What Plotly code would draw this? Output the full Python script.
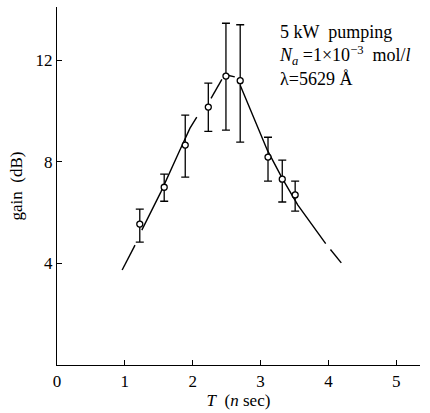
import plotly.graph_objects as go

# measured points
t_pts = [1.22, 1.58, 1.89, 2.23, 2.49, 2.70, 3.11, 3.32, 3.51]
gain_pts = [5.55, 7.0, 8.66, 10.16, 11.38, 11.2, 8.19, 7.32, 6.70]
err_plus = [0.59, 0.52, 1.18, 0.94, 2.08, 2.20, 0.78, 0.75, 0.54]
err_minus = [0.71, 0.55, 1.26, 0.96, 2.13, 2.42, 0.95, 0.90, 0.64]

# fitted curve (None = gap in the drawn line)
t_fit = [0.96, 1.15, None, 1.25, 1.53, 1.81, 1.96, 2.06, None, 2.27, 2.43, None,
         2.53, 2.62, None, 2.70, 3.10, 3.32, 3.55, 3.96, None, 4.03, 4.19]
gain_fit = [3.74, 4.72, None, 5.31, 6.81, 8.46, 9.33, 9.76, None, 10.5, 11.25, None,
            11.4, 11.35, None, 11.02, 8.46, 7.35, 6.30, 4.78, None, 4.55, 4.02]

x_ticks = [0, 1, 2, 3, 4, 5]
y_ticks = [4, 8, 12]

FONT = "Liberation Serif, Times New Roman, serif"

fig = go.Figure()
fig.add_trace(go.Scatter(
    x=t_fit, y=gain_fit, mode="lines", connectgaps=False,
    line=dict(color="black", width=1.4), hoverinfo="skip", showlegend=False))
fig.add_trace(go.Scatter(
    x=t_pts, y=gain_pts, mode="markers",
    marker=dict(symbol="circle", size=6, color="white", line=dict(width=1.3, color="black")),
    error_y=dict(type="data", symmetric=False, array=err_plus, arrayminus=err_minus,
                 color="black", thickness=1.3, width=4),
    showlegend=False))

fig.add_annotation(x=0.605, y=0.965, xref="paper", yref="paper", xanchor="left", yanchor="top",
                   align="left", showarrow=False,
                   text="5 kW  pumping<br><i>N<sub>a</sub></i> =1×10<sup>−3</sup>  mol/<i>l</i><br>λ=5629 Å",
                   font=dict(family=FONT, size=18, color="black"))

fig.update_layout(
    width=430, height=413,
    margin=dict(l=57, r=10, t=7, b=48),
    paper_bgcolor="white", plot_bgcolor="white",
    font=dict(family=FONT, size=17, color="black"),
    xaxis=dict(range=[0, 5.35], tickvals=x_ticks, ticks="inside", ticklen=5,
               tickcolor="black", showline=True, linecolor="black", linewidth=1.3,
               showgrid=False, zeroline=False, automargin=False,
               title=dict(text="<i>T</i>  (<i>n</i> sec)", standoff=4, font=dict(size=17))),
    yaxis=dict(range=[0, 14.1], tickvals=y_ticks, ticks="inside", ticklen=5,
               tickcolor="black", showline=True, linecolor="black", linewidth=1.3,
               showgrid=False, zeroline=False, automargin=False,
               title=dict(text="gain  (dB)", standoff=8, font=dict(size=17))),
)
fig.write_html("out.html", config={"displayModeBar": False},
               post_script="document.body.style.margin='0';")
